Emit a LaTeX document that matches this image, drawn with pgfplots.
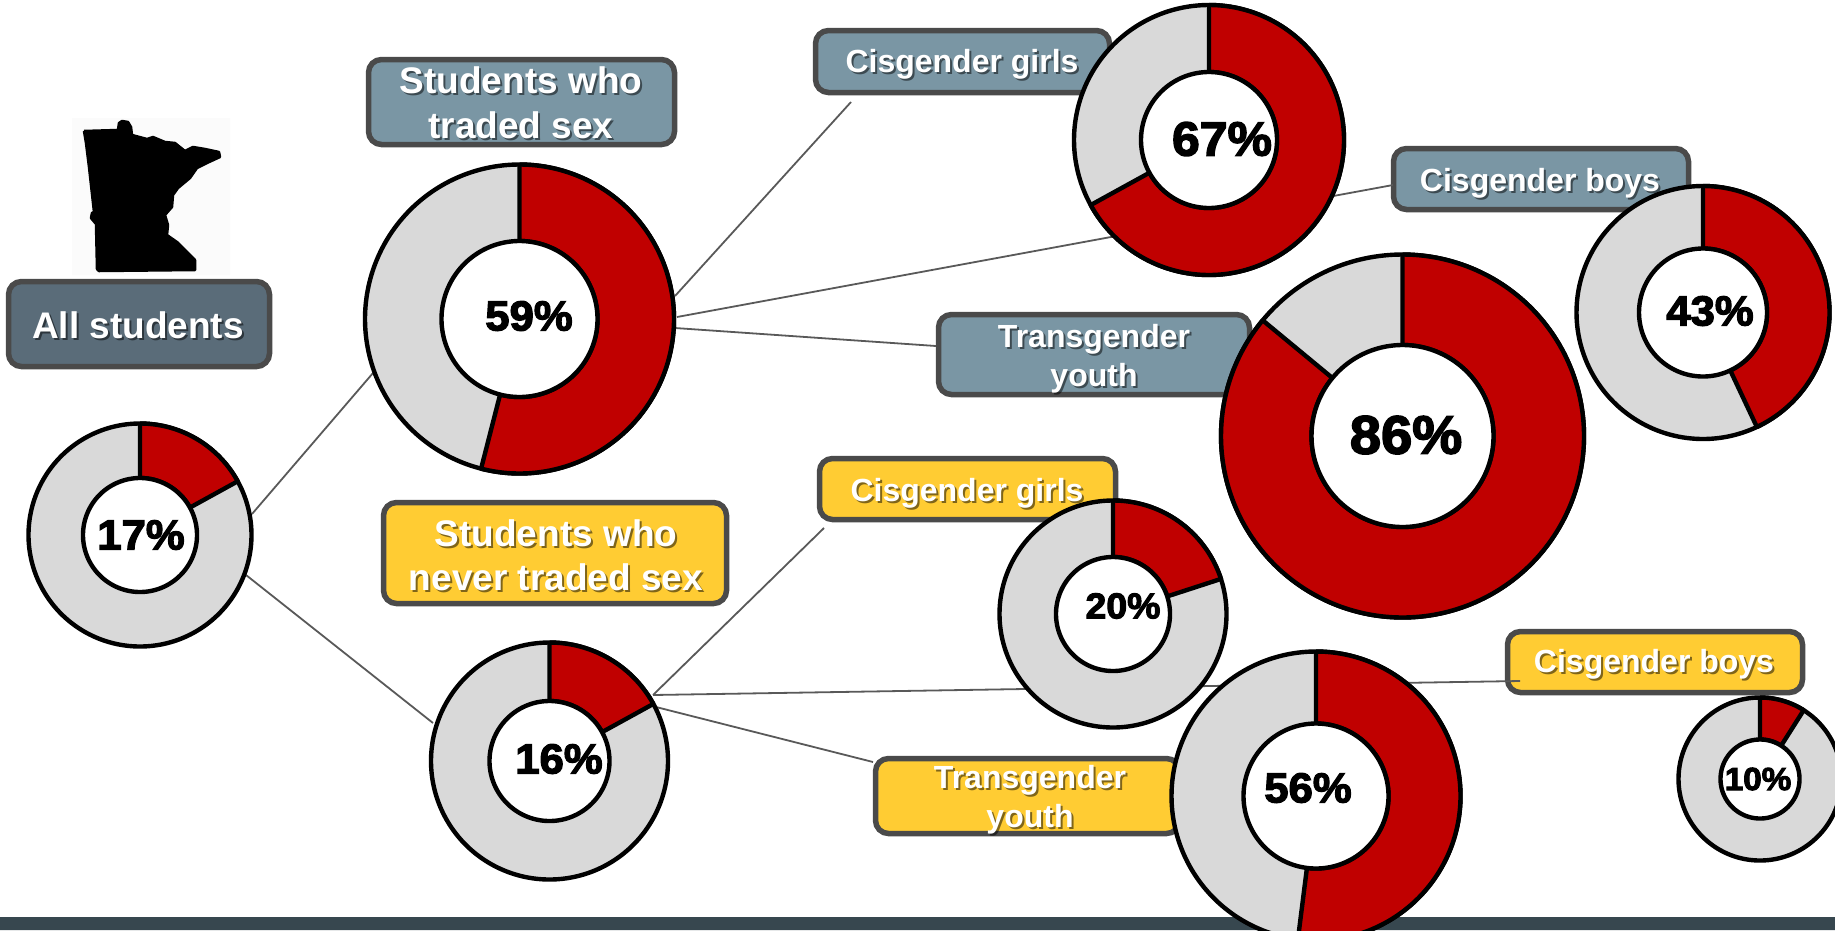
\documentclass[border=0pt]{standalone}
\usepackage{pgfplots}
\pgfplotsset{compat=1.18}
\usepackage{fontspec}
\setmainfont{Liberation Sans}
\newfontfamily\heavy[FakeBold=3,FakeStretch=1.04]{Liberation Sans Bold}
\definecolor{dk}{HTML}{5A6C79}
\definecolor{mid}{HTML}{7A96A4}
\definecolor{yel}{HTML}{FFCC33}
\definecolor{edge}{HTML}{4A4A4A}
\definecolor{ln}{HTML}{595959}
\definecolor{rd}{HTML}{C00000}
\definecolor{gy}{HTML}{D9D9D9}
\definecolor{barc}{HTML}{37474F}
\def\appendarc#1#2#3#4#5#6{% cx cy r from to segments
  \pgfmathsetmacro\dA{(#5-(#4))/#6}%
  \foreach \i in {0,...,#6}{%
    \pgfmathsetmacro\aa{#4+\i*\dA}%
    \pgfmathsetmacro\xx{#1+#3*sin(\aa)}%
    \pgfmathsetmacro\yy{#2-#3*cos(\aa)}%
    \xdef\pts{\pts (\xx,\yy)}%
  }%
}
% cx cy R r share(percent of circle as drawn)
\newcommand\donut[5]{%
  \gdef\pts{}\appendarc{#1}{#2}{#3}{0}{360}{240}%
  \edef\tmp{\noexpand\addplot[draw=black,line width=4.4pt,fill=gy,line join=round] coordinates {\pts};}\tmp
  \pgfmathsetmacro\endA{3.6*#5}%
  \pgfmathtruncatemacro\nseg{max(4,round(\endA/1.5))}%
  \gdef\pts{}\appendarc{#1}{#2}{#3}{0}{\endA}{\nseg}\appendarc{#1}{#2}{#4}{\endA}{0}{\nseg}%
  \pgfmathsetmacro\sy{#2-#3}%
  \xdef\pts{\pts (#1,\sy)}%
  \edef\tmp{\noexpand\addplot[draw=black,line width=4.4pt,fill=rd,line join=round] coordinates {\pts};}\tmp
  \gdef\pts{}\appendarc{#1}{#2}{#4}{0}{360}{180}%
  \edef\tmp{\noexpand\addplot[draw=black,line width=4.4pt,fill=white,line join=round] coordinates {\pts};}\tmp
}
% x y size text
\newcommand\pct[4]{\node[anchor=center,inner sep=0pt,text=black] at (axis cs:#1,#2) {\heavy\fontsize{#3}{#3}\selectfont #4};}
\newcommand\lbl[4]{%
  \node[anchor=base,inner sep=0pt,text=black,opacity=.5] at (axis cs:#1+2,#2+2) {\bfseries\fontsize{#3}{#3}\selectfont #4};
  \node[anchor=base,inner sep=0pt,text=white] at (axis cs:#1,#2) {\bfseries\fontsize{#3}{#3}\selectfont #4};}
\newcommand\bx[5]{\draw[draw=edge,line width=5.5pt,fill=#5,rounded corners=13pt] (axis cs:#1+2.5,#2+2.5) rectangle (axis cs:#3-2.5,#4-2.5);}
\begin{document}
\begin{tikzpicture}
\path[use as bounding box] (0,0) rectangle (1835pt,930pt);
\begin{axis}[at={(0,0)},anchor=south west,scale only axis,width=1835pt,height=930pt,
  xmin=0,xmax=1835,ymin=0,ymax=930,y dir=reverse,hide axis,clip=true]
% bottom band
\addplot[draw=none,fill=barc] coordinates {(0,917) (1835,917) (1835,930) (0,930) (0,917)};
% map
\addplot[draw=none,fill=black!1.5] coordinates {(72,118) (230,118) (230,275) (72,275) (72,118)};
\addplot[draw=black,line width=2.5pt,fill=black,line join=round] coordinates {
 (84,131) (118,130) (119,123) (122,121) (128,122) (131,127) (132,135) (147,139) (153,137)
 (165,142) (175,143) (185,151) (193,147) (205,149) (219,152) (220,157) (207,163) (197,168)
 (190,178) (178,188) (173,195) (172,207) (165,215) (168,225) (167,235) (177,242) (187,252)
 (195,260) (195,270) (99,271) (97,269) (96,224) (91,218) (92,213) (94,212) (89,167) (86,143) (84,131)};
% boxes
\bx{6}{279}{272}{369}{dk}
\bx{366}{57}{677}{147}{mid}
\bx{813}{28}{1112}{95}{mid}
\bx{1391}{146}{1691}{212}{mid}
\bx{936}{312}{1252}{397}{mid}
\bx{381}{500}{729}{606}{yel}
\bx{817}{456}{1118}{522}{yel}
\bx{1505}{629}{1805}{695}{yel}
\bx{873}{756}{1182}{836}{yel}
% connectors
\addplot[ln,line width=1.8pt] coordinates {(252,514) (373,373)};
\addplot[ln,line width=1.8pt] coordinates {(246,575) (433,723)};
\addplot[ln,line width=1.8pt] coordinates {(675,296) (851,102)};
\addplot[ln,line width=1.8pt] coordinates {(677,317) (1393,185)};
\addplot[ln,line width=1.8pt] coordinates {(675,328) (936,346)};
\addplot[ln,line width=1.8pt] coordinates {(653,695) (824,528)};
\addplot[ln,line width=1.8pt] coordinates {(653,695) (1520,681)};
\addplot[ln,line width=1.8pt] coordinates {(656,707) (873,762)};
% box text
\lbl{138}{338}{37}{All students}
\lbl{521}{93}{37}{Students who}
\lbl{521}{138}{37}{traded sex}
\lbl{556}{546}{37}{Students who}
\lbl{556}{590}{37}{never traded sex}
\lbl{962}{72}{32}{Cisgender girls}
\lbl{1540}{191}{32}{Cisgender boys}
\lbl{1094}{347}{32}{Transgender}
\lbl{1094}{386}{32}{youth}
\lbl{967}{501}{32}{Cisgender girls}
\lbl{1654}{672}{32}{Cisgender boys}
\lbl{1030}{788}{32}{Transgender}
\lbl{1030}{827}{32}{youth}
% donuts: cx cy R r drawn share
\donut{1209}{140}{135}{68}{67}
\donut{1703}{312.5}{126.5}{64}{43}
\donut{1402.5}{436}{181.5}{91}{86}
\donut{1113}{614}{113.5}{57}{20}
\donut{1316}{796}{144.5}{72.5}{52}
\donut{1760}{779}{81.5}{39.5}{9}
\donut{140}{535}{111.5}{57}{17}
\donut{519.5}{319}{154.5}{78}{54}
\donut{549.5}{761}{118.5}{60}{17}
% percentages
\pct{141}{535}{42}{17\%}
\pct{529}{316}{42}{59\%}
\pct{1222}{139}{48}{67\%}
\pct{1710}{311}{42}{43\%}
\pct{1406}{435}{54}{86\%}
\pct{1123}{606}{36}{20\%}
\pct{559}{759}{42}{16\%}
\pct{1308}{788}{42}{56\%}
\pct{1758}{779}{32}{10\%}
\end{axis}
\end{tikzpicture}
\end{document}
